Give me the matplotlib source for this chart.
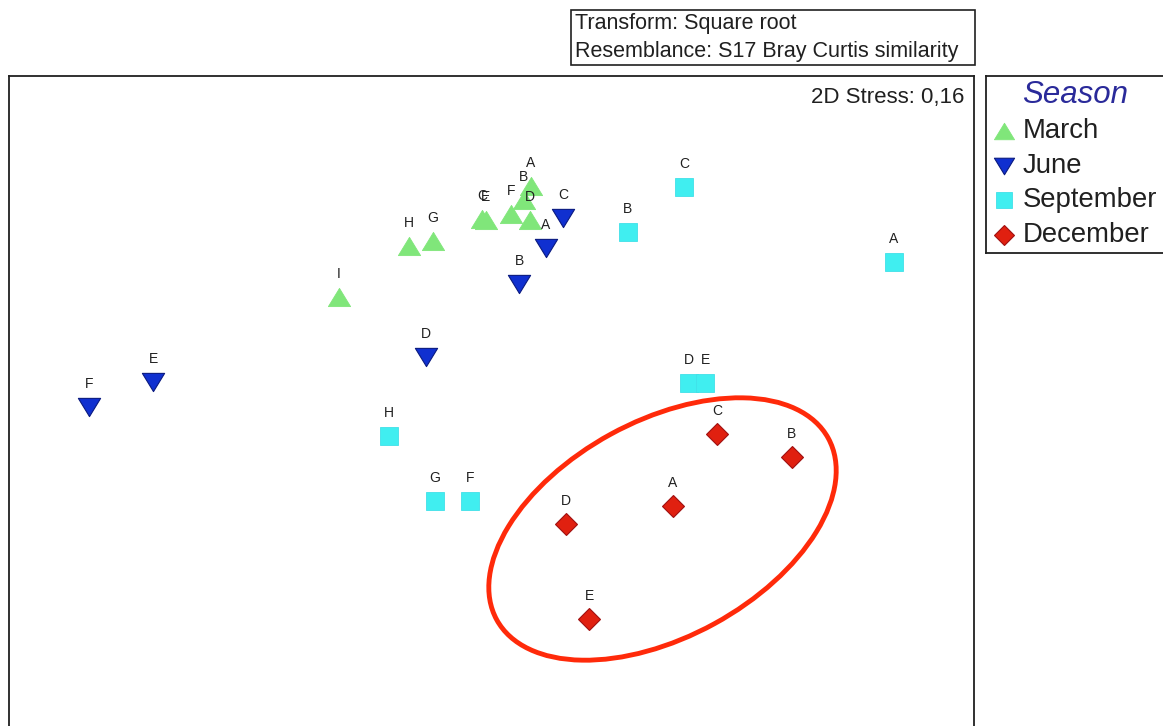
import matplotlib
matplotlib.use("Agg")
import matplotlib.pyplot as plt
from matplotlib.patches import Rectangle, Ellipse
from matplotlib.path import Path
import numpy as np

plt.rcParams['font.family'] = ['Liberation Sans', 'DejaVu Sans']

W, H = 1163, 726

# --- data: nMDS ordination positions (screen units) ---
march_labels = ['A', 'B', 'C', 'D', 'E', 'F', 'G', 'H', 'I']
march_x = [531, 524, 482, 530, 486, 511, 433, 409, 339]
march_y = [186, 200, 219, 220, 220, 214, 241, 246, 297]

june_labels = ['A', 'B', 'C', 'D', 'E', 'F']
june_x = [546, 519, 563, 426, 153, 89]
june_y = [248, 284, 218, 357, 382, 407]

sept_labels = ['A', 'B', 'C', 'D', 'E', 'F', 'G', 'H']
sept_x = [894, 628, 684, 689, 705, 470, 435, 389]
sept_y = [262, 232, 187, 383, 383, 501, 501, 436]

dec_labels = ['A', 'B', 'C', 'D', 'E']
dec_x = [673, 792, 717, 566, 589]
dec_y = [506, 457, 434, 524, 619]

seasons = ['March', 'June', 'September', 'December']
stress_text = '2D Stress: 0,16'
info_lines = ['Transform: Square root', 'Resemblance: S17 Bray Curtis similarity']

# --- styles ---
tri_up = Path([(-1, -0.82), (1, -0.82), (0, 0.82), (-1, -0.82)],
              [Path.MOVETO, Path.LINETO, Path.LINETO, Path.CLOSEPOLY])
tri_dn = Path([(-1, 0.82), (1, 0.82), (0, -0.82), (-1, 0.82)],
              [Path.MOVETO, Path.LINETO, Path.LINETO, Path.CLOSEPOLY])
styles = {
    'March': dict(marker=tri_up, ms=16, mfc='#80e67a', mec='#80e67a', mew=0.6),
    'June': dict(marker=tri_dn, ms=16, mfc='#1030d0', mec='#0a1a80', mew=0.8),
    'September': dict(marker='s', ms=12.5, mfc='#40eef0', mec='#40e0e8', mew=0.6),
    'December': dict(marker='D', ms=11, mfc='#e02010', mec='#a01010', mew=0.8),
}
groups = [
    ('March', march_x, march_y, march_labels),
    ('June', june_x, june_y, june_labels),
    ('September', sept_x, sept_y, sept_labels),
    ('December', dec_x, dec_y, dec_labels),
]

fig = plt.figure(figsize=(W / 100, H / 100), dpi=100)


def fx(px):
    return px / W


def fy(py):
    return 1 - py / H


# main plot axes
L, R, T, B = 9, 974, 76, 740
ax = fig.add_axes([fx(L), fy(B), fx(R) - fx(L), fy(T) - fy(B)])
ax.set_xlim(L, R)
ax.set_ylim(B, T)
ax.set_xticks([])
ax.set_yticks([])
for s in ax.spines.values():
    s.set_linewidth(1.3)
    s.set_color('#202020')

for name, xs, ys, labs in groups:
    st = styles[name]
    ax.plot(xs, ys, linestyle='none', zorder=3, **st)
    for x, y, lab in zip(xs, ys, labs):
        ax.annotate(lab, (x, y), xytext=(0, 16.5), textcoords='offset points',
                    ha='center', va='center', fontsize=10, color='#202020', zorder=4)

ell = Ellipse((662.5, 529), width=2 * 189, height=2 * 108, angle=-28.7,
              fill=False, edgecolor='#ff2a0a', linewidth=3.5, zorder=5)
ax.add_patch(ell)

ax.text(0.99, 0.967, stress_text, transform=ax.transAxes, ha='right', va='center',
        fontsize=16, color='#202020')

# info box
fig.add_artist(Rectangle((fx(571), fy(65)), fx(975) - fx(571), fy(10) - fy(65),
                         transform=fig.transFigure, fill=False, edgecolor='#202020', lw=1.2))
fig.text(fx(575), fy(23), info_lines[0], ha='left', va='center', fontsize=15.5, color='#202020')
fig.text(fx(575), fy(51), info_lines[1], ha='left', va='center', fontsize=15.5, color='#202020')

# legend axes
lax = fig.add_axes([fx(986), fy(253), fx(1175) - fx(986), fy(76) - fy(253)])
lax.set_xlim(986, 1175)
lax.set_ylim(253, 76)
lax.set_xticks([])
lax.set_yticks([])
for s in lax.spines.values():
    s.set_linewidth(1.3)
    s.set_color('#202020')
lax.text(1075, 95, 'Season', ha='center', va='center', fontsize=22.5, style='italic',
         color='#2a2a9a')
leg_y = [131, 166, 200, 235]
leg_ms = {'March': 14.5, 'June': 14.5, 'September': 11.5, 'December': 10.5}
for name, yy in zip(seasons, leg_y):
    st = dict(styles[name])
    st['ms'] = leg_ms[name]
    lax.plot([1004], [yy], linestyle='none', clip_on=False, **st)
    lax.text(1023, yy, name, ha='left', va='center', fontsize=19.8, color='#202020')

fig.savefig('out.png', dpi=100)
